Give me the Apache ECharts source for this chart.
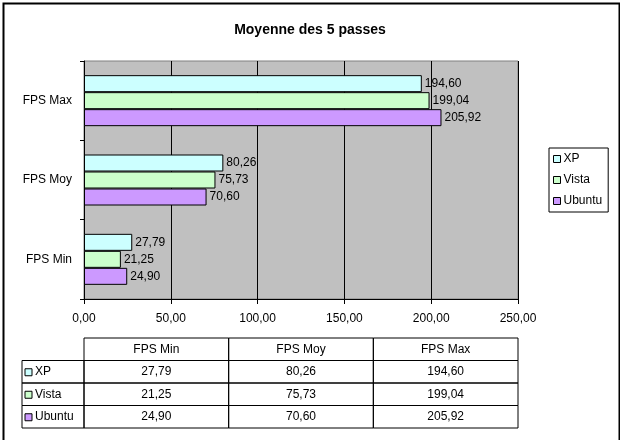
<!DOCTYPE html>
<html>
<head>
<meta charset="utf-8">
<script src="https://cdn.jsdelivr.net/npm/echarts@6/dist/echarts.min.js"></script>
<style>
  html, body { margin: 0; padding: 0; background: #fff; }
  #chart { width: 620px; height: 440px; }
</style>
</head>
<body>
<div id="chart"></div>
<script>
// données
const categories = ['FPS Min', 'FPS Moy', 'FPS Max'];
const seriesNames = ['XP', 'Vista', 'Ubuntu'];
const xpValues = [27.79, 80.26, 194.60];
const vistaValues = [21.25, 75.73, 199.04];
const ubuntuValues = [24.90, 70.60, 205.92];
const xTicks = [0, 50, 100, 150, 200, 250];

const colors = { XP: '#ccffff', Vista: '#ccffcc', Ubuntu: '#cc99ff' };
const FONT = '"Liberation Sans", Arial, sans-serif';

function fr(v){ return v.toFixed(2).replace('.', ','); }

const valuesByName = { XP: xpValues, Vista: vistaValues, Ubuntu: ubuntuValues };

// cellules du tableau de données (en-têtes + valeurs)
const tableRows = ['head'].concat(seriesNames);
const cells = [];
categories.forEach((c, i) => cells.push({ col: i, row: 0, text: c, kind: 0 }));
seriesNames.forEach((n, r) => {
  cells.push({ col: 0, row: r + 1, text: n, kind: 1 });
  valuesByName[n].forEach((v, i) => cells.push({ col: i, row: r + 1, text: fr(v), kind: 0 }));
});

function renderCell(params, api){
  const cell = cells[params.dataIndex];
  const c = api.coord([cell.col, cell.row]);
  const s = api.size([1, 1]);
  const h = s[1];
  const y = c[1] - h / 2;
  let x, w;
  if (cell.kind === 1){ w = 62; x = c[0] - s[0] / 2 - w; }
  else { w = s[0]; x = c[0] - s[0] / 2; }
  const children = [{
    type: 'rect',
    shape: { x: x, y: y, width: w, height: h },
    style: { fill: 'none', stroke: '#000', lineWidth: 1 }
  }];
  if (cell.kind === 1){
    children.push({
      type: 'rect',
      shape: { x: x + 3, y: c[1] - 3, width: 7, height: 7 },
      style: { fill: colors[cell.text], stroke: '#000', lineWidth: 1 }
    });
    children.push({
      type: 'text',
      style: { x: x + 13, y: c[1], text: cell.text, textAlign: 'left', textVerticalAlign: 'middle',
        fill: '#000', font: '12px ' + FONT }
    });
  } else {
    children.push({
      type: 'text',
      style: { x: c[0], y: c[1], text: cell.text, textAlign: 'center', textVerticalAlign: 'middle',
        fill: '#000', font: '12px ' + FONT }
    });
  }
  return { type: 'group', children: children };
}

// barres : XP en haut de chaque groupe, Ubuntu en bas
const barSeries = seriesNames.map(n => ({
  name: n, type: 'bar', data: valuesByName[n],
  xAxisIndex: 0, yAxisIndex: 0,
  barWidth: 17, barGap: '0%',
  itemStyle: { color: colors[n], borderColor: '#000', borderWidth: 1 },
  label: { show: true, position: 'right', distance: 3, color: '#000',
    fontFamily: FONT, fontSize: 12, formatter: p => fr(p.value) },
  emphasis: { disabled: true },
  animation: false
}));

const chart = echarts.init(document.getElementById('chart'));
const option = {
  backgroundColor: '#fff',
  animation: false,
  title: { text: 'Moyenne des 5 passes', left: 'center', top: 18,
    textStyle: { fontFamily: FONT, fontSize: 14, fontWeight: 'bold', color: '#000' } },
  legend: {
    data: seriesNames, orient: 'vertical', left: 549, top: 148,
    backgroundColor: '#fff', borderColor: '#000', borderWidth: 1,
    padding: [5, 6, 5, 4], itemGap: 9, itemWidth: 7, itemHeight: 7, icon: 'rect',
    itemStyle: { borderWidth: 1 },
    textStyle: { fontFamily: FONT, fontSize: 12, color: '#000', padding: [0, 0, 0, -2] }
  },
  grid: [
    { left: 84, right: 102, top: 61, bottom: 141, show: true,
      backgroundColor: '#c0c0c0', borderColor: '#808080', borderWidth: 1 },
    { left: 84, right: 102, top: 338, height: 90 }
  ],
  xAxis: [
    { type: 'value', gridIndex: 0, min: xTicks[0], max: xTicks[xTicks.length - 1], interval: 50,
      axisLine: { show: true, lineStyle: { color: '#000' } },
      axisTick: { show: true, length: 5, lineStyle: { color: '#000' } },
      axisLabel: { margin: 14, color: '#000', fontFamily: FONT, fontSize: 12, formatter: v => fr(v) },
      splitLine: { show: true, lineStyle: { color: '#000', width: 1 } } },
    { type: 'category', gridIndex: 1, data: categories, show: false }
  ],
  yAxis: [
    { type: 'category', gridIndex: 0, data: categories,
      axisLine: { show: true, lineStyle: { color: '#000' } },
      axisTick: { show: true, length: 4, lineStyle: { color: '#000' } },
      axisLabel: { margin: 12, color: '#000', fontFamily: FONT, fontSize: 12 },
      splitLine: { show: false } },
    { type: 'category', gridIndex: 1, data: tableRows, inverse: true, show: false }
  ],
  graphic: [
    { type: 'rect', left: 1, top: 1, shape: { width: 616, height: 446 },
      style: { fill: 'none', stroke: '#000', lineWidth: 2 }, silent: true }
  ],
  series: barSeries.concat([{
    type: 'custom', xAxisIndex: 1, yAxisIndex: 1,
    data: cells.map(c => [c.col, c.row]),
    renderItem: renderCell, silent: true, animation: false
  }])
};
chart.setOption(option);
</script>
</body>
</html>
